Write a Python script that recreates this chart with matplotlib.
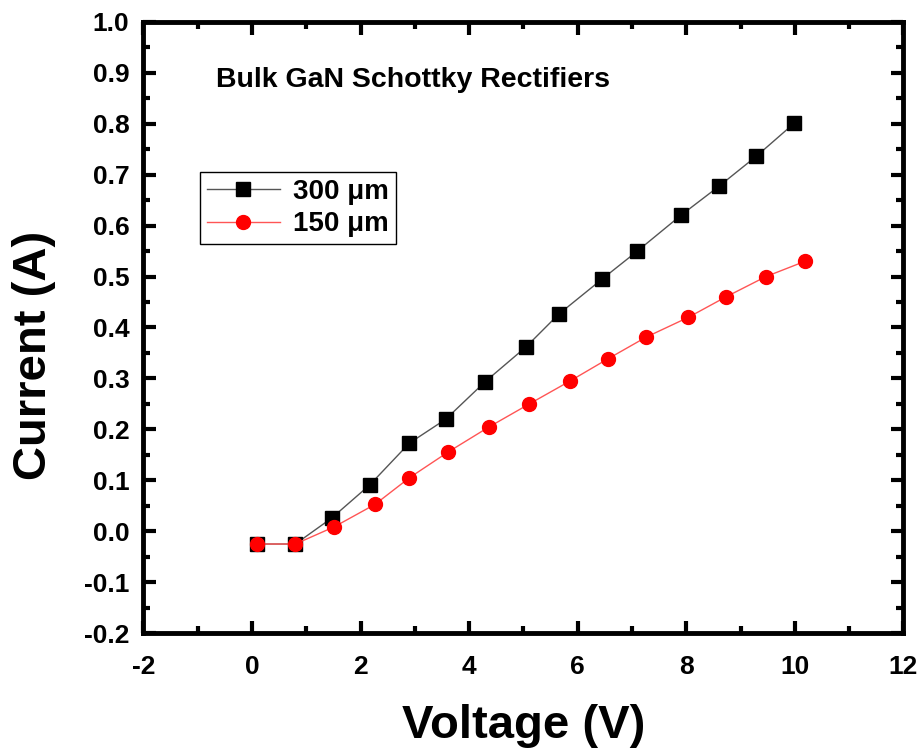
import numpy as np
import matplotlib
matplotlib.use("Agg")
import matplotlib.pyplot as plt
from matplotlib.ticker import MultipleLocator

# data
v_300 = [0.10, 0.80, 1.47, 2.17, 2.90, 3.57, 4.30, 5.05, 5.65, 6.45, 7.10, 7.90, 8.60, 9.29, 9.99]
i_300 = [-0.025, -0.025, 0.026, 0.091, 0.173, 0.220, 0.294, 0.362, 0.426, 0.495, 0.550, 0.620, 0.677, 0.736, 0.801]

v_150 = [0.10, 0.80, 1.52, 2.27, 2.90, 3.62, 4.37, 5.11, 5.86, 6.55, 7.26, 8.04, 8.73, 9.47, 10.19]
i_150 = [-0.025, -0.025, 0.009, 0.053, 0.105, 0.156, 0.205, 0.250, 0.295, 0.338, 0.381, 0.420, 0.460, 0.500, 0.530]

labels = ["300 \u03bcm", "150 \u03bcm"]
title = "Bulk GaN Schottky Rectifiers"

plt.rcParams['font.family'] = ["Liberation Sans", "DejaVu Sans"]

fig = plt.figure(figsize=(9.19, 7.52), dpi=100)
ax = fig.add_axes([0.156, 0.158, 0.827, 0.813])

ax.plot(v_300, i_300, color="#555555", lw=1.0, marker="s", ms=9.5,
        mfc="black", mec="black", label=labels[0])
ax.plot(v_150, i_150, color="#ff5555", lw=1.0, marker="o", ms=10,
        mfc="red", mec="red", label=labels[1])

ax.set_xlim(-2, 12)
ax.set_ylim(-0.2, 1.0)
ax.xaxis.set_major_locator(MultipleLocator(2))
ax.xaxis.set_minor_locator(MultipleLocator(1))
ax.yaxis.set_major_locator(MultipleLocator(0.1))
ax.yaxis.set_minor_locator(MultipleLocator(0.05))
ax.set_xticklabels([f"{t:g}" for t in ax.get_xticks()])
ax.set_yticklabels([f"{t:.1f}" for t in ax.get_yticks()])

for s in ax.spines.values():
    s.set_linewidth(3.5)
ax.tick_params(which="both", direction="in", top=True, right=True, width=3)
ax.tick_params(which="major", length=9)
ax.tick_params(axis="y", which="major", pad=10)
ax.tick_params(axis="x", which="major", pad=16)
ax.tick_params(which="minor", length=5)
for lab in ax.get_xticklabels() + ax.get_yticklabels():
    lab.set_fontweight("bold")
    lab.set_fontsize(19)

ax.set_xlabel("Voltage (V)", fontweight="bold", fontsize=34, labelpad=18)
ax.set_ylabel("Current (A)", fontweight="bold", fontsize=34)
ax.yaxis.set_label_coords(-0.115, 0.455)

ax.text(0.096, 0.893, title, transform=ax.transAxes, fontsize=20.5, fontweight="bold")

leg = ax.legend(loc="upper left", bbox_to_anchor=(0.075, 0.755), fancybox=False,
                edgecolor="black", framealpha=1, borderpad=0.25, handlelength=2.6,
                labelspacing=0.25, handletextpad=0.5, borderaxespad=0,
                prop={"weight": "bold", "size": 20})
leg.get_frame().set_linewidth(1.0)

fig.savefig("out.png", dpi=100)
